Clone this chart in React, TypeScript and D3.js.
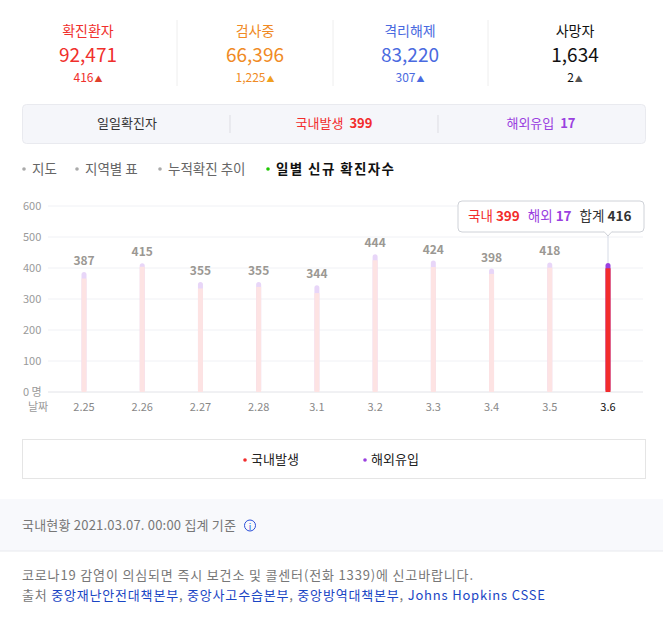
import React from "react";
import * as d3 from "d3";

const dates = ["2.25", "2.26", "2.27", "2.28", "3.1", "3.2", "3.3", "3.4", "3.5", "3.6"];
const domestic = [366, 404, 334, 339, 319, 425, 403, 381, 401, 399];
const overseas = [21, 11, 21, 16, 25, 19, 21, 17, 17, 17];
const yTicks = [0, 100, 200, 300, 400, 500, 600];

const statLabels = ["확진환자", "검사중", "격리해제", "사망자"];
const statValues = ["92,471", "66,396", "83,220", "1,634"];
const statDeltas = ["416", "1,225", "307", "2"];
const statColors = ["#f0302c", "#f08a24", "#4a6ae0", "#111111"];
const statArrowColors = ["#e0402c", "#f0a020", "#4a6ae0", "#555555"];
const statCenters = [88, 255, 410, 575];

const tabs = ["지도", "지역별 표", "누적확진 추이", "일별 신규 확진자수"];
const tabX = [22, 75, 158, 266];

const FONT = "'Noto Sans CJK KR', 'Noto Sans', sans-serif";
const RED = "#f22c2c";
const PURPLE = "#9a40e0";

export default function App() {
  const width = 663;
  const height = 620;

  const x = d3.scalePoint<string>().domain(dates).range([84, 608]);
  const y = d3.scaleLinear().domain([0, 600]).range([392, 206]);
  const barW = 5;
  const last = dates.length - 1;
  const lastX = x(dates[last])!;
  const lastTop = y(domestic[last] + overseas[last]);

  return (
    <div style={{ position: "absolute", left: 0, top: 0, background: "#fff" }}>
      <svg width={width} height={height} style={{ display: "block", fontFamily: FONT }}>
        <rect width={width} height={height} fill="#fff" />

        {/* summary header */}
        {statLabels.map((lab, i) => (
          <g key={lab}>
            <text x={statCenters[i]} y={36} textAnchor="middle" fontSize={14} fill={statColors[i]}>{lab}</text>
            <text x={statCenters[i]} y={62} textAnchor="middle" fontSize={19} fill={statColors[i]}>{statValues[i]}</text>
            <text x={statCenters[i]} y={82} textAnchor="middle" fontSize={12} fill={statColors[i]}>
              {statDeltas[i]}
              <tspan fontSize={8} fill={statArrowColors[i]} dx={1}>▲</tspan>
            </text>
          </g>
        ))}
        {[177, 333, 488].map((sx) => (
          <line key={sx} x1={sx} x2={sx} y1={20} y2={86} stroke="#eeeeee" />
        ))}

        {/* daily box */}
        <rect x={22.5} y={104.5} width={623} height={39} rx={4} fill="#f5f6fa" stroke="#e9eaef" />
        <line x1={230} x2={230} y1={115} y2={133} stroke="#dddde3" />
        <line x1={438} x2={438} y1={115} y2={133} stroke="#dddde3" />
        <text x={127} y={128} textAnchor="middle" fontSize={13} fill="#333">일일확진자</text>
        <text x={334} y={128} textAnchor="middle" fontSize={13} fill={RED}>
          국내발생 <tspan fontWeight="bold" dx={3}>399</tspan>
        </text>
        <text x={541} y={128} textAnchor="middle" fontSize={13} fill={PURPLE}>
          해외유입 <tspan fontWeight="bold" dx={3}>17</tspan>
        </text>

        {/* tabs */}
        {tabs.map((t, i) => (
          <g key={t}>
            <circle cx={tabX[i] + 2} cy={169} r={1.8} fill={i === 3 ? "#1ec800" : "#aaaaaa"} />
            <text x={tabX[i] + 10} y={174} fontSize={13.5} fill={i === 3 ? "#111" : "#666"}
              fontWeight={i === 3 ? "bold" : "normal"}
              {...(i === 3 ? { textLength: 118, lengthAdjust: "spacing" } : {})}>{t}</text>
          </g>
        ))}

        {/* grid */}
        {yTicks.map((t) => (
          <g key={t}>
            <line x1={48} x2={643} y1={y(t)} y2={y(t)} stroke={t === 0 ? "#e2e3e8" : "#f0f1f5"} />
            <text x={23} y={y(t) + 4} fontSize={11} fill="#9a9a9a">{t === 0 ? "0 명" : t}</text>
          </g>
        ))}

        {/* bars */}
        {dates.map((d, i) => {
          const cx = x(d)!;
          const total = domestic[i] + overseas[i];
          const active = i === last;
          return (
            <g key={d}>
              <rect x={cx - barW / 2} y={y(total)} width={barW} height={y(0) - y(total)} rx={2.5}
                fill={active ? PURPLE : "#e8d6f8"} />
              <rect x={cx - barW / 2} y={y(domestic[i])} width={barW} height={y(0) - y(domestic[i])}
                fill={active ? RED : "#fde3e3"} />
              {!active && (
                <text x={cx} y={y(total) - 7} textAnchor="middle" fontSize={12} fontWeight="bold" fill="#9b9893">{total}</text>
              )}
              <text x={cx} y={411} textAnchor="middle" fontSize={11} fill={active ? "#111" : "#888"}>{d}</text>
            </g>
          );
        })}
        <text x={28} y={411} fontSize={11} fill="#9a9a9a">날짜</text>

        {/* tooltip */}
        <line x1={lastX} x2={lastX} y1={232} y2={lastTop} stroke="#d6dbe6" />
        <rect x={lastX - 150} y={201} width={186} height={31} rx={4} fill="#fff" stroke="#cfd2d8" />
        <path d={`M${lastX - 4},231.5 L${lastX},236 L${lastX + 4},231.5`} fill="#fff" stroke="#cfd2d8" />
        <line x1={lastX - 3.5} x2={lastX + 3.5} y1={231.5} y2={231.5} stroke="#fff" strokeWidth={1.5} />
        <text x={lastX - 140} y={221} fontSize={13.5}>
          <tspan fill={RED}>국내 </tspan>
          <tspan fill={RED} fontWeight="bold">{domestic[last]}</tspan>
          <tspan fill={PURPLE} dx={8}>해외 </tspan>
          <tspan fill={PURPLE} fontWeight="bold">{overseas[last]}</tspan>
          <tspan fill="#333" dx={8}>합계 </tspan>
          <tspan fill="#333" fontWeight="bold">{domestic[last] + overseas[last]}</tspan>
        </text>

        {/* legend */}
        <rect x={22.5} y={439.5} width={623} height={39} fill="#fff" stroke="#e5e5e5" />
        <circle cx={245} cy={460} r={1.8} fill={RED} />
        <text x={251} y={464} fontSize={13} fill="#222">국내발생</text>
        <circle cx={365} cy={460} r={1.8} fill={PURPLE} />
        <text x={371} y={464} fontSize={13} fill="#222">해외유입</text>

        {/* footer */}
        <rect x={0} y={499} width={width} height={52} fill="#f8f9fc" />
        <line x1={0} x2={width} y1={551} y2={551} stroke="#e8e9ee" />
        <text x={22} y={530} fontSize={13} fill="#777" textLength={214} lengthAdjust="spacing">국내현황 2021.03.07. 00:00 집계 기준</text>
        <circle cx={250} cy={525.5} r={5.5} fill="none" stroke="#2a4ed8" />
        <text x={250} y={529.5} textAnchor="middle" fontSize={9} fill="#2a4ed8">i</text>
        <text x={22} y={580} fontSize={13} fill="#777" textLength={451} lengthAdjust="spacing">코로나19 감염이 의심되면 즉시 보건소 및 콜센터(전화 1339)에 신고바랍니다.</text>
        <text x={22} y={600} fontSize={13} fill="#777" textLength={523} lengthAdjust="spacing">
          출처 <tspan fill="#1a46c4">중앙재난안전대책본부</tspan>, <tspan fill="#1a46c4">중앙사고수습본부</tspan>, <tspan fill="#1a46c4">중앙방역대책본부</tspan>, <tspan fill="#1a46c4">Johns Hopkins CSSE</tspan>
        </text>
      </svg>
    </div>
  );
}
